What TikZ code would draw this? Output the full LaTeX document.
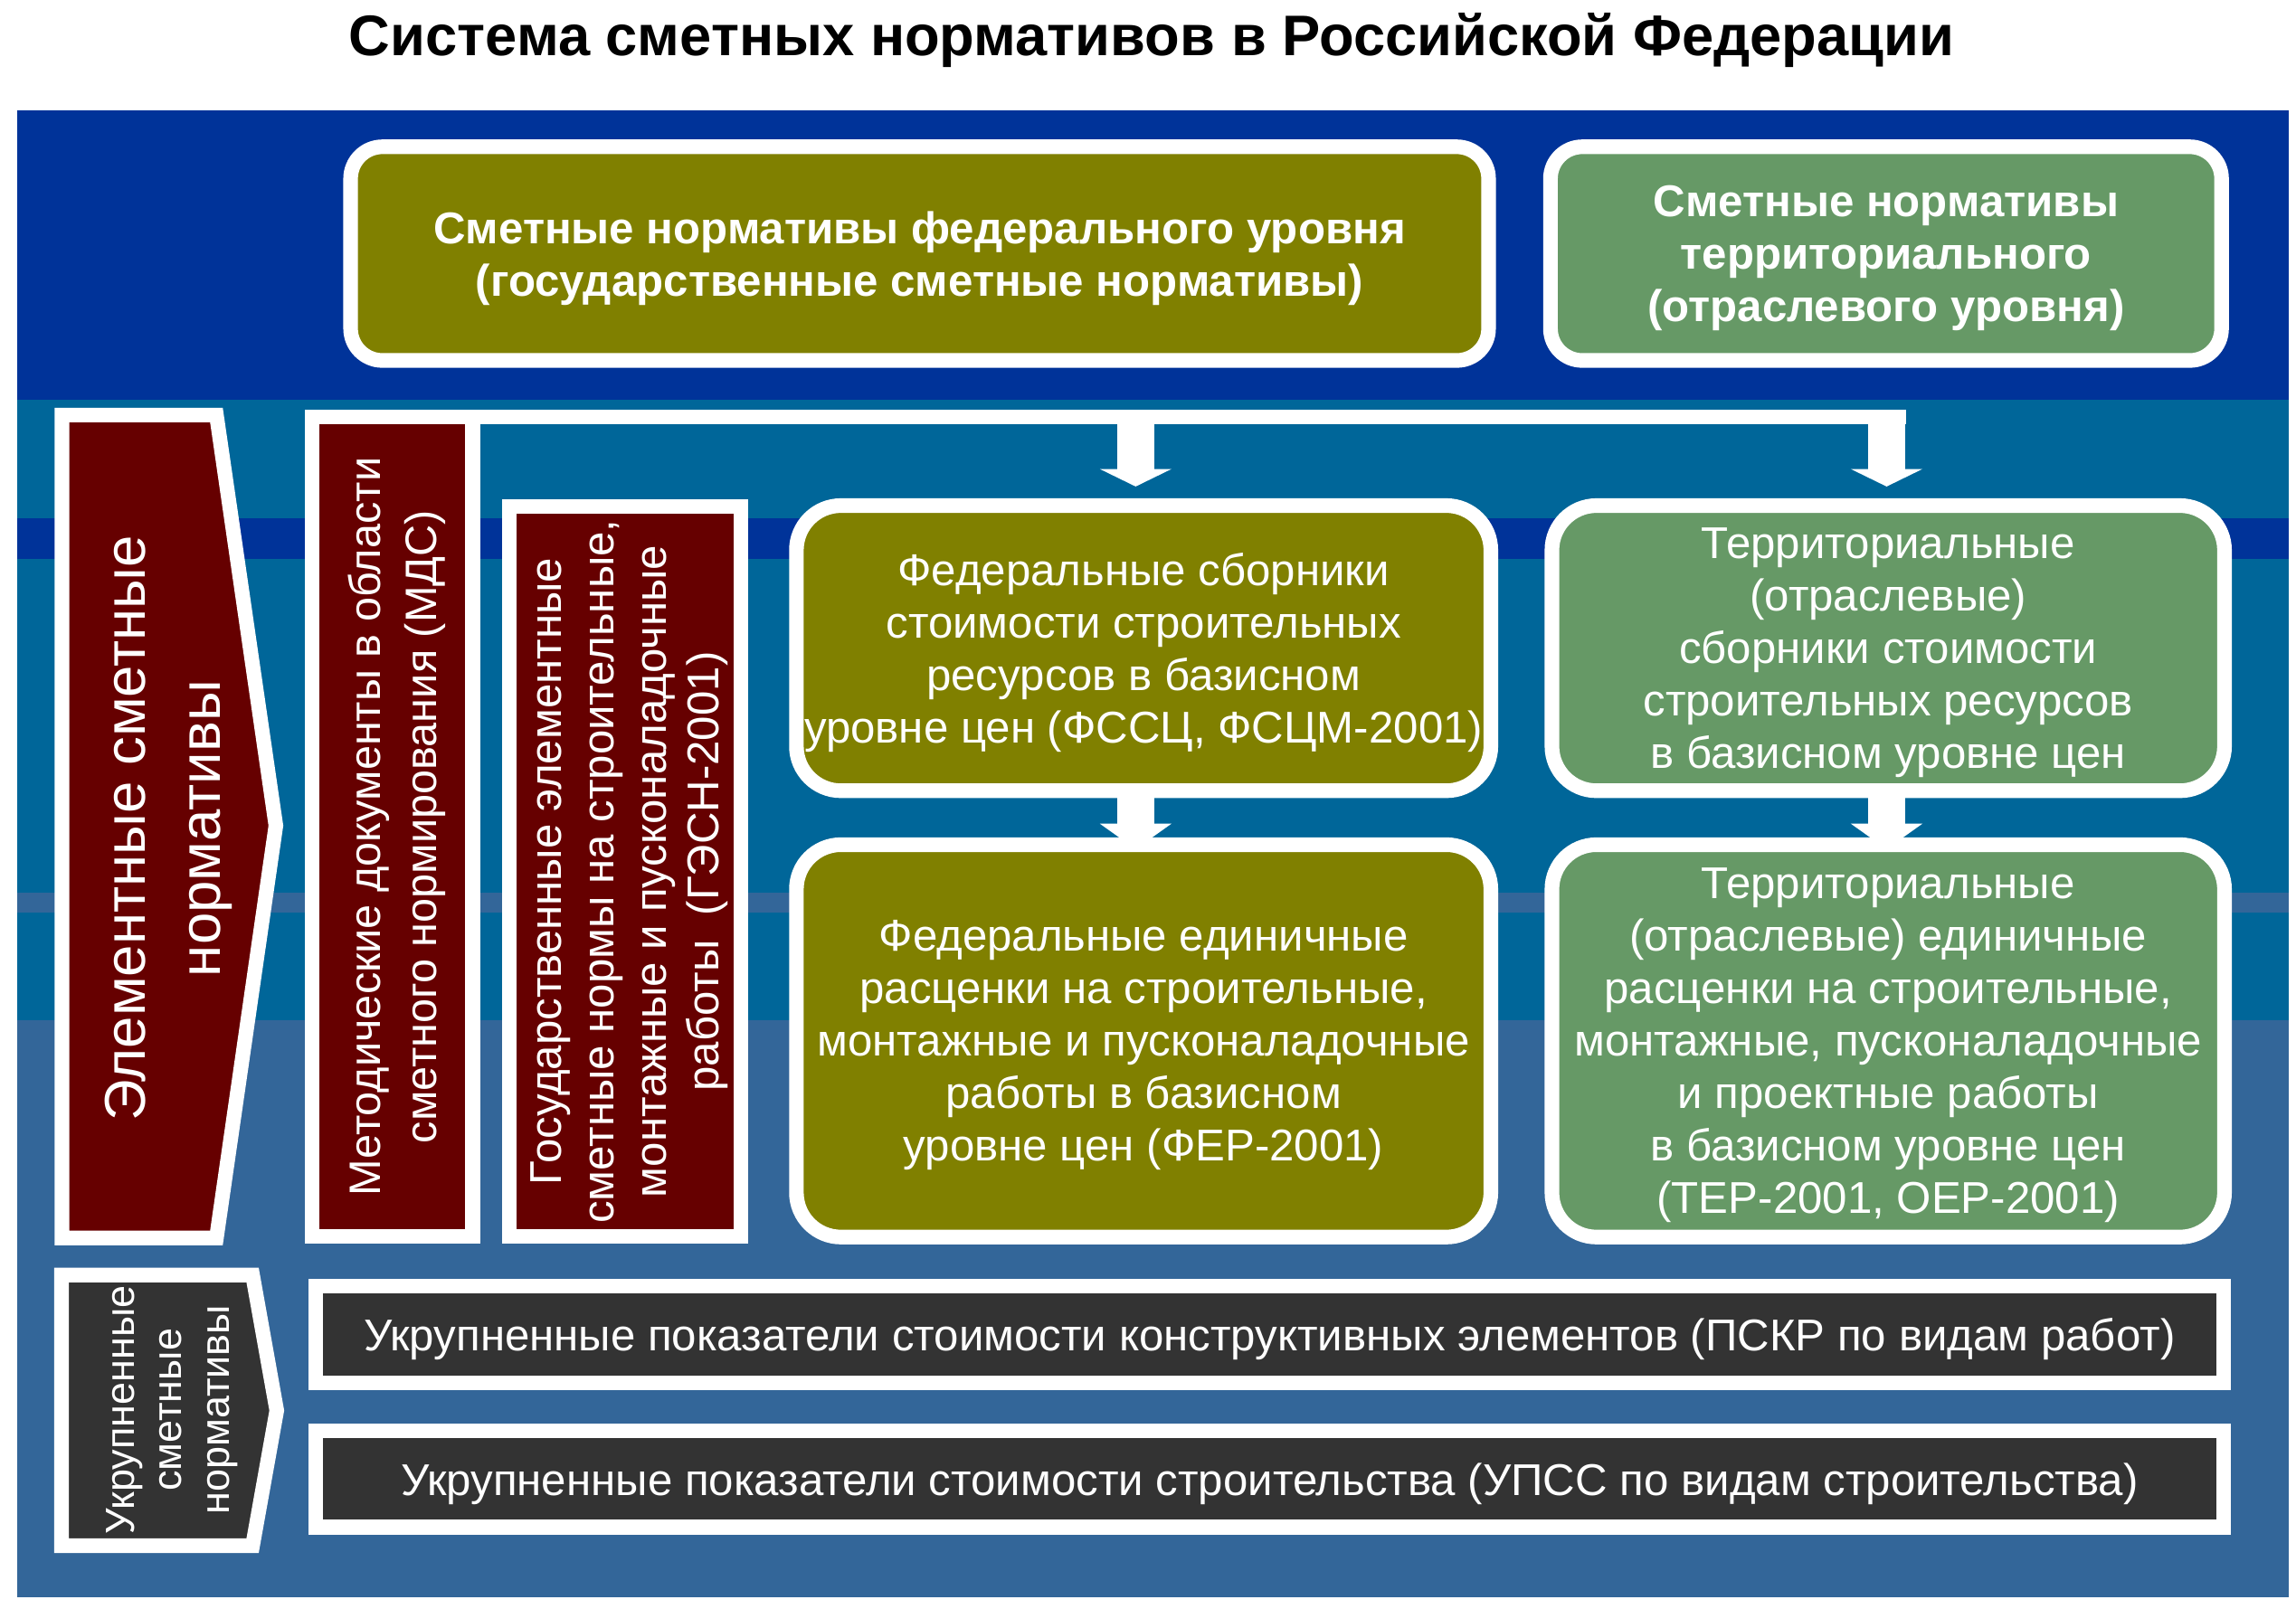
\documentclass[tikz,border=0pt]{standalone}
\usepackage{fontspec}
\setmainfont{Liberation Sans}
\usepackage{tikz}
\usetikzlibrary{arrows.meta}

\definecolor{azul}{HTML}{003399}
\definecolor{turq}{HTML}{006699}
\definecolor{acero}{HTML}{336699}
\definecolor{oliva}{HTML}{808000}
\definecolor{salvia}{HTML}{669966}
\definecolor{granate}{HTML}{660000}
\definecolor{grafito}{HTML}{333333}

% un pixel de la figura
\newcommand{\upx}{0.45884pt}

\begin{document}
\begin{tikzpicture}[x=0.16186mm, y=-0.16186mm,
  caja/.style={draw=white, line width=4.6pt, text=white, align=center, outer sep=0pt,
    inner sep=0pt, rounded corners=14pt, text depth=0pt, font=\fontsize{14}{16.5}\selectfont},
  fed/.style={caja, fill=oliva},
  terr/.style={caja, fill=salvia},
  rojo/.style={draw=white, line width=4.6pt, fill=granate, outer sep=0pt, inner sep=0pt},
  vert/.style={rotate=90, text=white, align=center, text depth=0pt},
  barra/.style={draw=white, line width=4.6pt, fill=grafito, text=white, outer sep=0pt,
    inner sep=0pt, text depth=0pt, font=\fontsize{14}{16.5}\selectfont},
  flecha/.style={white, line width=11.5pt,
    -{Triangle[width=22.5pt, length=5.5pt, line width=0pt]}},
  tam/.style 2 args={minimum width=#1*\upx, minimum height=#2*\upx}]

  \useasboundingbox (0,0) rectangle (1568,1099);
  \fill[white] (0,0) rectangle (1568,1099);

  % titulo
  \node[anchor=base, font=\bfseries\fontsize{18}{21}\selectfont] (titulo)
    at (786.5,38) {Система сметных нормативов в Российской Федерации};

  % fondo
  \fill[azul] (12,75.5) rectangle (1563,273);
  \fill[turq] (12,273) rectangle (1563,697);
  \fill[azul] (12,354) rectangle (1563,381.5);
  \fill[acero] (12,610) rectangle (1563,623.5);
  \fill[acero] (12,697) rectangle (1563,1091);

  % nivel superior
  \node[fed, tam={780}{146.5}, rounded corners=10pt, font=\bfseries\fontsize{14}{16.5}\selectfont]
    (fedtop) at (628,173.25) {Сметные нормативы федерального уровня\\(государственные сметные нормативы)};
  \node[terr, tam={460}{146.5}, rounded corners=10pt, font=\bfseries\fontsize{14}{16.5}\selectfont]
    (tertop) at (1288,173.25) {Сметные нормативы\\территориального\\(отраслевого уровня)};

  % elementnye
  \draw[white, line width=4.6pt, fill=granate, line join=miter]
    (42.3,283.5) -- (147.8,283.5) -- (188.4,564) -- (147.8,845.6) -- (42.3,845.6) -- cycle;
  \node[vert, font=\fontsize{18.1}{23.7}\selectfont]
    (elem) at (111,566) {Элементные сметные\\нормативы};

  \node[rojo, tam={110}{561.8}] (met) at (268,564.7) {};
  \node[vert, font=\fontsize{13.85}{17.5}\selectfont]
    (mettxt) at (met) {Методические документы в области\\сметного нормирования (МДС)};
  \node[rojo, tam={158.75}{500.6}] (gos) at (426.9,595.3) {};
  \node[vert, font=\fontsize{14}{16.5}\selectfont]
    (gostxt) at (gos) {Государственные элементные\\сметные нормы на строительные,\\монтажные и пусконаладочные\\работы\ \ (ГЭСН-2001)};

  % sborniki i rascenki
  \node[fed, tam={476}{195.5}] (fsb) at (781,442.75)
    {Федеральные сборники\\стоимости строительных\\ресурсов в базисном\\уровне цен (ФССЦ, ФСЦМ-2001)};
  \node[terr, tam={461}{195.5}] (tsb) at (1289.5,442.75)
    {Территориальные\\(отраслевые)\\сборники стоимости\\строительных ресурсов\\в базисном уровне цен};
  \node[fed, tam={476}{269}] (fer) at (781,711)
    {Федеральные единичные\\расценки на строительные,\\монтажные и пусконаладочные\\работы в базисном\\уровне цен (ФЕР-2001)};
  \node[terr, tam={461}{269}] (ter) at (1289.5,711)
    {Территориальные\\(отраслевые) единичные\\расценки на строительные,\\монтажные, пусконаладочные\\и проектные работы\\в базисном уровне цен\\(ТЕР-2001, ОЕР-2001)};

  % flechas
  \draw[white, line width=4.5pt] (met.north) -- ([xshift=5.7pt]tsb.north |- met.north);
  \draw[flecha, shorten >=6pt] ([xshift=-2.5pt]fsb.north |- met.north) -- ([xshift=-2.5pt]fsb.north);
  \draw[flecha, shorten >=6pt] ([xshift=-0.5pt]tsb.north |- met.north) -- ([xshift=-0.5pt]tsb.north);
  \draw[flecha, -{Triangle[width=22.5pt, length=8pt, line width=0pt]}, shorten >=-1.4pt]
    ([xshift=-2.5pt]fsb.south) -- ([xshift=-2.5pt]fer.north);
  \draw[flecha, -{Triangle[width=22.5pt, length=8pt, line width=0pt]}, shorten >=-1.4pt]
    ([xshift=-0.5pt]tsb.south) -- ([xshift=-0.5pt]ter.north);

  % ukrupnennye
  \draw[white, line width=4.6pt, fill=grafito, line join=miter]
    (42,871) -- (172.5,871) -- (189,963.5) -- (172.5,1055.8) -- (42,1055.8) -- cycle;
  \node[vert, font=\fontsize{12.8}{15}\selectfont]
    (ukr) at (114.5,963) {Укрупненные\\сметные\\нормативы};

  \node[barra, tam={1308}{66.5}] (pskr) at (867,911.75)
    {Укрупненные показатели стоимости конструктивных элементов (ПСКР по видам работ)};
  \node[barra, tam={1308}{66}] (upss) at (867,1010.25)
    {Укрупненные показатели стоимости строительства (УПСС по видам строительства)};
\end{tikzpicture}
\end{document}
